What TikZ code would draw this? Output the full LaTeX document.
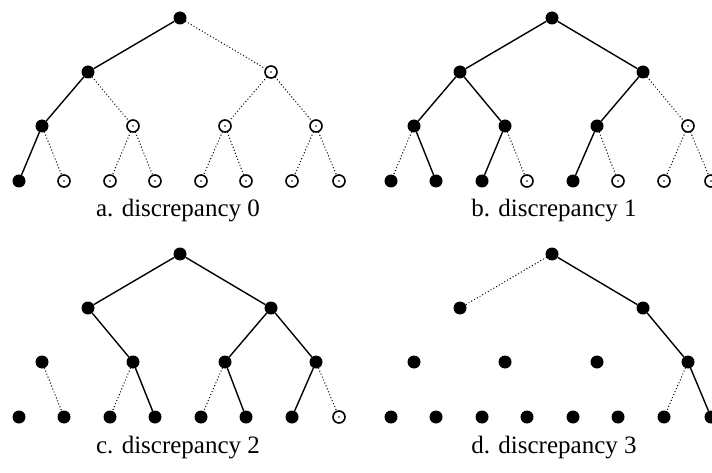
\documentclass[tikz,border=0pt]{standalone}
\usepackage{fontspec}
\setmainfont{Liberation Serif}
\usetikzlibrary{positioning}

\tikzset{
  full/.style={circle, fill=black, inner sep=0pt, minimum size=13pt},
  hollow/.style={circle, draw=black, line width=1.6pt, inner sep=0pt, minimum size=12pt,
    path picture={\fill[black] (path picture bounding box.center) circle (0.9pt);}},
  solidedge/.style={line width=1.4pt},
  dottededge/.style={line width=1.4pt, line cap=round, dash pattern=on 0pt off 3.2pt},
  caption/.style={font=\fontsize{25}{30}\selectfont, anchor=base}
}

\begin{document}
\begin{tikzpicture}[x=1pt, y=-1pt]
				\useasboundingbox (0,0) rectangle (712,473);

				% a. discrepancy 0
				\node[full] (a1) at (180,18) {};
				\node[full] (a2) at (88,72) {};
				\node[hollow] (a3) at (271,72) {};
				\node[full] (a4) at (42,126) {};
				\node[hollow] (a5) at (133,126) {};
				\node[hollow] (a6) at (225,126) {};
				\node[hollow] (a7) at (316,126) {};
				\node[full] (a8) at (19,181) {};
				\node[hollow] (a9) at (64,181) {};
				\node[hollow] (a10) at (110,181) {};
				\node[hollow] (a11) at (155,181) {};
				\node[hollow] (a12) at (201,181) {};
				\node[hollow] (a13) at (246,181) {};
				\node[hollow] (a14) at (292,181) {};
				\node[hollow] (a15) at (339,181) {};
				\draw[solidedge] (a1) -- (a2);
				\draw[dottededge] (a1) -- (a3);
				\draw[solidedge] (a2) -- (a4);
				\draw[dottededge] (a2) -- (a5);
				\draw[dottededge] (a3) -- (a6);
				\draw[dottededge] (a3) -- (a7);
				\draw[solidedge] (a4) -- (a8);
				\draw[dottededge] (a4) -- (a9);
				\draw[dottededge] (a5) -- (a10);
				\draw[dottededge] (a5) -- (a11);
				\draw[dottededge] (a6) -- (a12);
				\draw[dottededge] (a6) -- (a13);
				\draw[dottededge] (a7) -- (a14);
				\draw[dottededge] (a7) -- (a15);
				\node[caption] (acap) at (178,217) {a. discrepancy 0};

				% b. discrepancy 1
				\node[full] (b1) at (552,18) {};
				\node[full] (b2) at (460,72) {};
				\node[full] (b3) at (643,72) {};
				\node[full] (b4) at (414,126) {};
				\node[full] (b5) at (505,126) {};
				\node[full] (b6) at (597,126) {};
				\node[hollow] (b7) at (688,126) {};
				\node[full] (b8) at (391,181) {};
				\node[full] (b9) at (436,181) {};
				\node[full] (b10) at (482,181) {};
				\node[hollow] (b11) at (527,181) {};
				\node[full] (b12) at (573,181) {};
				\node[hollow] (b13) at (618,181) {};
				\node[hollow] (b14) at (664,181) {};
				\node[hollow] (b15) at (711,181) {};
				\draw[solidedge] (b1) -- (b2);
				\draw[solidedge] (b1) -- (b3);
				\draw[solidedge] (b2) -- (b4);
				\draw[solidedge] (b2) -- (b5);
				\draw[solidedge] (b3) -- (b6);
				\draw[dottededge] (b3) -- (b7);
				\draw[dottededge] (b4) -- (b8);
				\draw[solidedge] (b4) -- (b9);
				\draw[solidedge] (b5) -- (b10);
				\draw[dottededge] (b5) -- (b11);
				\draw[solidedge] (b6) -- (b12);
				\draw[dottededge] (b6) -- (b13);
				\draw[dottededge] (b7) -- (b14);
				\draw[dottededge] (b7) -- (b15);
				\node[caption] (bcap) at (554,217) {b. discrepancy 1};

				% c. discrepancy 2
				\node[full] (c1) at (180,254) {};
				\node[full] (c2) at (88,308) {};
				\node[full] (c3) at (271,308) {};
				\node[full] (c4) at (42,362) {};
				\node[full] (c5) at (133,362) {};
				\node[full] (c6) at (225,362) {};
				\node[full] (c7) at (316,362) {};
				\node[full] (c8) at (19,417) {};
				\node[full] (c9) at (64,417) {};
				\node[full] (c10) at (110,417) {};
				\node[full] (c11) at (155,417) {};
				\node[full] (c12) at (201,417) {};
				\node[full] (c13) at (246,417) {};
				\node[full] (c14) at (292,417) {};
				\node[hollow] (c15) at (339,417) {};
				\draw[solidedge] (c1) -- (c2);
				\draw[solidedge] (c1) -- (c3);
				\draw[solidedge] (c2) -- (c5);
				\draw[solidedge] (c3) -- (c6);
				\draw[solidedge] (c3) -- (c7);
				\draw[dottededge] (c4) -- (c9);
				\draw[dottededge] (c5) -- (c10);
				\draw[solidedge] (c5) -- (c11);
				\draw[dottededge] (c6) -- (c12);
				\draw[solidedge] (c6) -- (c13);
				\draw[solidedge] (c7) -- (c14);
				\draw[dottededge] (c7) -- (c15);
				\node[caption] (ccap) at (178,453) {c. discrepancy 2};

				% d. discrepancy 3
				\node[full] (d1) at (552,254) {};
				\node[full] (d2) at (460,308) {};
				\node[full] (d3) at (643,308) {};
				\node[full] (d4) at (414,362) {};
				\node[full] (d5) at (505,362) {};
				\node[full] (d6) at (597,362) {};
				\node[full] (d7) at (688,362) {};
				\node[full] (d8) at (391,417) {};
				\node[full] (d9) at (436,417) {};
				\node[full] (d10) at (482,417) {};
				\node[full] (d11) at (527,417) {};
				\node[full] (d12) at (573,417) {};
				\node[full] (d13) at (618,417) {};
				\node[full] (d14) at (664,417) {};
				\node[full] (d15) at (711,417) {};
				\draw[dottededge] (d1) -- (d2);
				\draw[solidedge] (d1) -- (d3);
				\draw[solidedge] (d3) -- (d7);
				\draw[dottededge] (d7) -- (d14);
				\draw[solidedge] (d7) -- (d15);
				\node[caption] (dcap) at (554,453) {d. discrepancy 3};
\end{tikzpicture}
\end{document}
